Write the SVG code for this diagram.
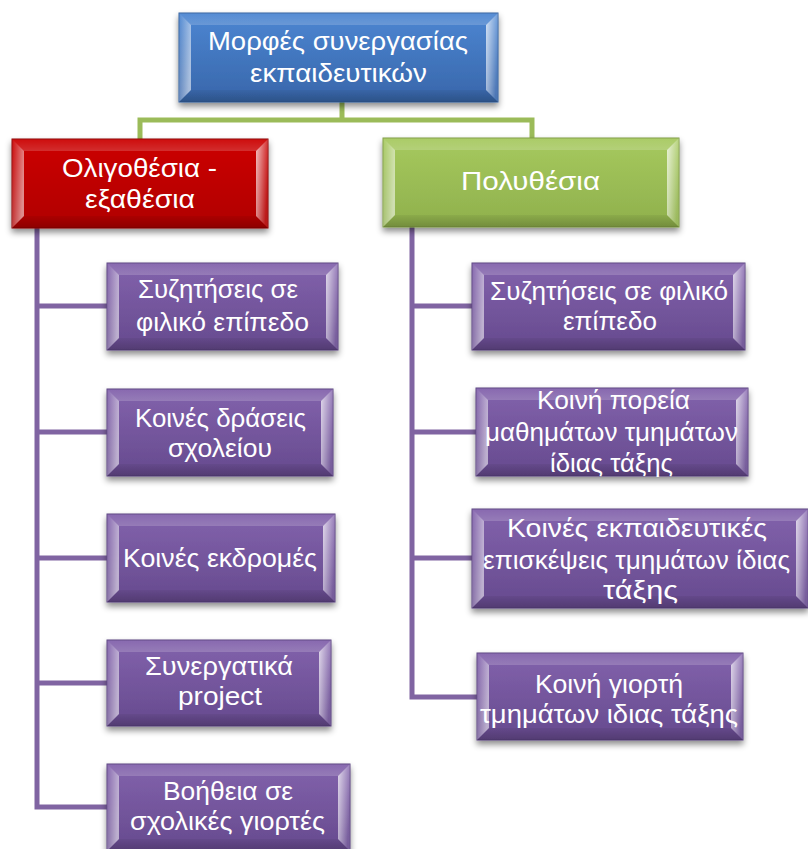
<svg xmlns="http://www.w3.org/2000/svg" width="808" height="849" viewBox="0 0 808 849">
<defs>
<filter id="sh" x="-10%" y="-20%" width="120%" height="150%">
<feDropShadow dx="0" dy="4" stdDeviation="3" flood-color="#000" flood-opacity="0.45"/>
</filter>
<linearGradient id="fB" x1="0" y1="0" x2="0" y2="1"><stop offset="0" stop-color="#4C86D2"/><stop offset="1" stop-color="#3866AA"/></linearGradient>
<linearGradient id="fR" x1="0" y1="0" x2="0" y2="1"><stop offset="0" stop-color="#CC0000"/><stop offset="1" stop-color="#B00000"/></linearGradient>
<linearGradient id="fG" x1="0" y1="0" x2="0" y2="1"><stop offset="0" stop-color="#A6C95E"/><stop offset="1" stop-color="#8FB04C"/></linearGradient>
<linearGradient id="fP" x1="0" y1="0" x2="0" y2="1"><stop offset="0" stop-color="#8262AC"/><stop offset="1" stop-color="#664A8E"/></linearGradient>
<linearGradient id="bL" x1="0" y1="0" x2="1" y2="0.4"><stop offset="0" stop-color="#fff" stop-opacity="0.05"/><stop offset="1" stop-color="#fff" stop-opacity="0.55"/></linearGradient>
<linearGradient id="bR" x1="0" y1="0" x2="1" y2="0.4"><stop offset="0" stop-color="#fff" stop-opacity="0.75"/><stop offset="1" stop-color="#fff" stop-opacity="0.1"/></linearGradient>
<linearGradient id="bT" x1="0" y1="0" x2="0" y2="1"><stop offset="0" stop-color="#fff" stop-opacity="0.05"/><stop offset="1" stop-color="#fff" stop-opacity="0.18"/></linearGradient>
<linearGradient id="bB" x1="0" y1="0" x2="0" y2="1"><stop offset="0" stop-color="#000" stop-opacity="0.05"/><stop offset="1" stop-color="#000" stop-opacity="0.2"/></linearGradient>
</defs>
<style>
.base{filter:url(#sh);stroke-width:1}
.blue{fill:url(#fB);stroke:#35619E}
.red{fill:url(#fR);stroke:#8E0000}
.green{fill:url(#fG);stroke:#7E9B42}
.purple{fill:url(#fP);stroke:#5A4080}
.l{fill:url(#bL)}
.r{fill:url(#bR)}
.t{fill:url(#bT)}
.b{fill:url(#bB)}
text{font-family:"Liberation Sans","DejaVu Sans",sans-serif;font-size:26px;fill:#fff}
.cg{fill:none;stroke:#9BBB59;stroke-width:5}
.cp{fill:none;stroke:#8064A2;stroke-width:5}
</style>
<g id="connectors">
<path class="cg" d="M342,102 V120 M140,139 V120 H532 V138"/>
<path class="cp" d="M37,228 V807 H107 M37,306 H107 M37,432 H107 M37,558 H107 M37,683 H107"/>
<path class="cp" d="M412,226 V697 H477 M412,306 H472 M412,432 H476 M412,558 H472"/>
</g>
<g id="root">
<rect class="base blue" x="179" y="13" width="319" height="89"/>
<polygon class="t" points="179,13 498,13 486,25 191,25"/>
<polygon class="b" points="179,102 498,102 486,90 191,90"/>
<polygon class="l" points="179,13 191,25 191,90 179,102"/>
<polygon class="r" points="498,13 486,25 486,90 498,102"/>
<text x="208" y="50" textLength="260" lengthAdjust="spacingAndGlyphs">Μορφές συνεργασίας</text>
<text x="250" y="82" textLength="177" lengthAdjust="spacingAndGlyphs">εκπαιδευτικών</text>
</g>
<g id="oligothesia">
<rect class="base red" x="12" y="139" width="256" height="89"/>
<polygon class="t" points="12,139 268,139 256,151 24,151"/>
<polygon class="b" points="12,228 268,228 256,216 24,216"/>
<polygon class="l" points="12,139 24,151 24,216 12,228"/>
<polygon class="r" points="268,139 256,151 256,216 268,228"/>
<text x="62" y="177" textLength="155" lengthAdjust="spacingAndGlyphs">Ολιγοθέσια -</text>
<text x="85" y="208" textLength="110" lengthAdjust="spacingAndGlyphs">εξαθέσια</text>
</g>
<g id="polythesia">
<rect class="base green" x="383" y="138" width="296" height="89"/>
<polygon class="t" points="383,138 679,138 667,150 395,150"/>
<polygon class="b" points="383,227 679,227 667,215 395,215"/>
<polygon class="l" points="383,138 395,150 395,215 383,227"/>
<polygon class="r" points="679,138 667,150 667,215 679,227"/>
<text x="461" y="190" textLength="139" lengthAdjust="spacingAndGlyphs">Πολυθέσια</text>
</g>
<g id="L1">
<rect class="base purple" x="107" y="263" width="231" height="87"/>
<polygon class="t" points="107,263 338,263 326,275 119,275"/>
<polygon class="b" points="107,350 338,350 326,338 119,338"/>
<polygon class="l" points="107,263 119,275 119,338 107,350"/>
<polygon class="r" points="338,263 326,275 326,338 338,350"/>
<text x="138" y="298" textLength="160" lengthAdjust="spacingAndGlyphs">Συζητήσεις σε</text>
<text x="136" y="331" textLength="173" lengthAdjust="spacingAndGlyphs">φιλικό επίπεδο</text>
</g>
<g id="L2">
<rect class="base purple" x="107" y="389" width="226" height="87"/>
<polygon class="t" points="107,389 333,389 321,401 119,401"/>
<polygon class="b" points="107,476 333,476 321,464 119,464"/>
<polygon class="l" points="107,389 119,401 119,464 107,476"/>
<polygon class="r" points="333,389 321,401 321,464 333,476"/>
<text x="135" y="427" textLength="171" lengthAdjust="spacingAndGlyphs">Κοινές δράσεις</text>
<text x="168" y="457" textLength="104" lengthAdjust="spacingAndGlyphs">σχολείου</text>
</g>
<g id="L3">
<rect class="base purple" x="107" y="514" width="228" height="88"/>
<polygon class="t" points="107,514 335,514 323,526 119,526"/>
<polygon class="b" points="107,602 335,602 323,590 119,590"/>
<polygon class="l" points="107,514 119,526 119,590 107,602"/>
<polygon class="r" points="335,514 323,526 323,590 335,602"/>
<text x="123" y="567" textLength="194" lengthAdjust="spacingAndGlyphs">Κοινές εκδρομές</text>
</g>
<g id="L4">
<rect class="base purple" x="107" y="640" width="224" height="86"/>
<polygon class="t" points="107,640 331,640 319,652 119,652"/>
<polygon class="b" points="107,726 331,726 319,714 119,714"/>
<polygon class="l" points="107,640 119,652 119,714 107,726"/>
<polygon class="r" points="331,640 319,652 319,714 331,726"/>
<text x="145" y="675" textLength="148" lengthAdjust="spacingAndGlyphs">Συνεργατικά</text>
<text x="178" y="705" textLength="84" lengthAdjust="spacingAndGlyphs">project</text>
</g>
<g id="L5">
<rect class="base purple" x="107" y="764" width="243" height="87"/>
<polygon class="t" points="107,764 350,764 338,776 119,776"/>
<polygon class="b" points="107,851 350,851 338,839 119,839"/>
<polygon class="l" points="107,764 119,776 119,839 107,851"/>
<polygon class="r" points="350,764 338,776 338,839 350,851"/>
<text x="163" y="800" textLength="130" lengthAdjust="spacingAndGlyphs">Βοήθεια σε</text>
<text x="130" y="830" textLength="195" lengthAdjust="spacingAndGlyphs">σχολικές γιορτές</text>
</g>
<g id="R1">
<rect class="base purple" x="472" y="263" width="273" height="87"/>
<polygon class="t" points="472,263 745,263 733,275 484,275"/>
<polygon class="b" points="472,350 745,350 733,338 484,338"/>
<polygon class="l" points="472,263 484,275 484,338 472,350"/>
<polygon class="r" points="745,263 733,275 733,338 745,350"/>
<text x="490" y="300" textLength="238" lengthAdjust="spacingAndGlyphs">Συζητήσεις σε φιλικό</text>
<text x="563" y="330" textLength="94" lengthAdjust="spacingAndGlyphs">επίπεδο</text>
</g>
<g id="R2">
<rect class="base purple" x="476" y="388" width="272" height="88"/>
<polygon class="t" points="476,388 748,388 736,400 488,400"/>
<polygon class="b" points="476,476 748,476 736,464 488,464"/>
<polygon class="l" points="476,388 488,400 488,464 476,476"/>
<polygon class="r" points="748,388 736,400 736,464 748,476"/>
<text x="537" y="409" textLength="153" lengthAdjust="spacingAndGlyphs">Κοινή πορεία</text>
<text x="485" y="441" textLength="253" lengthAdjust="spacingAndGlyphs">μαθημάτων τμημάτων</text>
<text x="550" y="472" textLength="123" lengthAdjust="spacingAndGlyphs">ίδιας τάξης</text>
</g>
<g id="R3">
<rect class="base purple" x="472" y="509" width="336" height="99"/>
<polygon class="t" points="472,509 808,509 796,521 484,521"/>
<polygon class="b" points="472,608 808,608 796,596 484,596"/>
<polygon class="l" points="472,509 484,521 484,596 472,608"/>
<polygon class="r" points="808,509 796,521 796,596 808,608"/>
<text x="507" y="537" textLength="260" lengthAdjust="spacingAndGlyphs">Κοινές εκπαιδευτικές</text>
<text x="483" y="569" textLength="307" lengthAdjust="spacingAndGlyphs">επισκέψεις τμημάτων ίδιας</text>
<text x="603" y="599" textLength="75" lengthAdjust="spacingAndGlyphs">τάξης</text>
</g>
<g id="R4">
<rect class="base purple" x="477" y="653" width="266" height="87"/>
<polygon class="t" points="477,653 743,653 731,665 489,665"/>
<polygon class="b" points="477,740 743,740 731,728 489,728"/>
<polygon class="l" points="477,653 489,665 489,728 477,740"/>
<polygon class="r" points="743,653 731,665 731,728 743,740"/>
<text x="535" y="693" textLength="148" lengthAdjust="spacingAndGlyphs">Κοινή γιορτή</text>
<text x="480" y="723" textLength="258" lengthAdjust="spacingAndGlyphs">τμημάτων ιδιας τάξης</text>
</g>
</svg>
